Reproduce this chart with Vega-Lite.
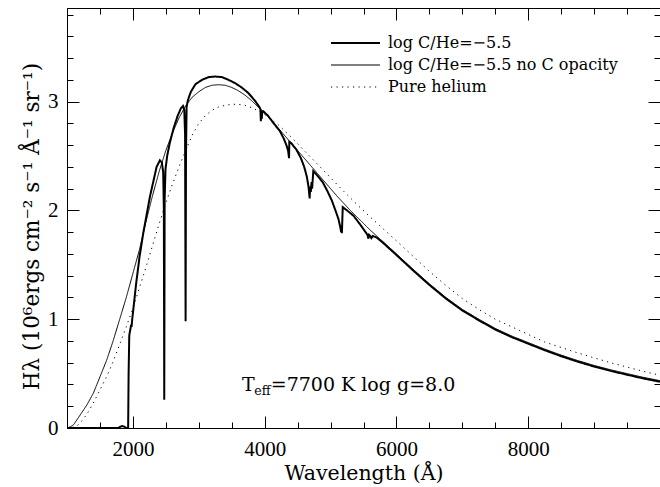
{
  "$schema": "https://vega.github.io/schema/vega-lite/v6.json",
  "width": 593,
  "height": 420,
  "autosize": {"type": "none"},
  "padding": {"left": 67, "top": 8, "right": 0, "bottom": 59},
  "background": "white",
  "config": {
    "view": {"stroke": "black", "strokeWidth": 1},
    "axis": {
      "domain": false,
      "grid": false,
      "tickColor": "black",
      "tickWidth": 1,
      "labelColor": "black",
      "labelFont": "Liberation Serif",
      "labelFontSize": 21,
      "labelFlush": false,
      "labelOverlap": false,
      "titleFont": "DejaVu Serif",
      "titleFontWeight": "normal",
      "titleColor": "black"
    }
  },
  "datasets": {
    "spec": [
      {"s":"log C/He=−5.5","w":1000,"h":0},{"s":"log C/He=−5.5","w":1780,"h":0},{"s":"log C/He=−5.5","w":1810,"h":0.012},{"s":"log C/He=−5.5","w":1840,"h":0.018},{"s":"log C/He=−5.5","w":1870,"h":0.012},{"s":"log C/He=−5.5","w":1900,"h":0},{"s":"log C/He=−5.5","w":1928,"h":0},{"s":"log C/He=−5.5","w":1935,"h":0.5},{"s":"log C/He=−5.5","w":1945,"h":0.85},{"s":"log C/He=−5.5","w":1965,"h":0.92},{"s":"log C/He=−5.5","w":1975,"h":0.95},{"s":"log C/He=−5.5","w":1980,"h":0.93},{"s":"log C/He=−5.5","w":1990,"h":1.0},{"s":"log C/He=−5.5","w":2050,"h":1.33},{"s":"log C/He=−5.5","w":2100,"h":1.57},{"s":"log C/He=−5.5","w":2160,"h":1.8},{"s":"log C/He=−5.5","w":2260,"h":2.13},{"s":"log C/He=−5.5","w":2360,"h":2.4},{"s":"log C/He=−5.5","w":2410,"h":2.46},{"s":"log C/He=−5.5","w":2440,"h":2.44},{"s":"log C/He=−5.5","w":2460,"h":2.35},{"s":"log C/He=−5.5","w":2470,"h":2.0},{"s":"log C/He=−5.5","w":2476,"h":0.26},{"s":"log C/He=−5.5","w":2482,"h":2.1},{"s":"log C/He=−5.5","w":2495,"h":2.38},{"s":"log C/He=−5.5","w":2520,"h":2.5},{"s":"log C/He=−5.5","w":2560,"h":2.62},{"s":"log C/He=−5.5","w":2620,"h":2.76},{"s":"log C/He=−5.5","w":2680,"h":2.87},{"s":"log C/He=−5.5","w":2730,"h":2.94},{"s":"log C/He=−5.5","w":2760,"h":2.96},{"s":"log C/He=−5.5","w":2780,"h":2.92},{"s":"log C/He=−5.5","w":2792,"h":2.7},{"s":"log C/He=−5.5","w":2800,"h":0.98},{"s":"log C/He=−5.5","w":2806,"h":2.5},{"s":"log C/He=−5.5","w":2815,"h":2.95},{"s":"log C/He=−5.5","w":2830,"h":3.0},{"s":"log C/He=−5.5","w":2850,"h":3.04},{"s":"log C/He=−5.5","w":2880,"h":3.09},{"s":"log C/He=−5.5","w":2950,"h":3.16},{"s":"log C/He=−5.5","w":3050,"h":3.2},{"s":"log C/He=−5.5","w":3150,"h":3.225},{"s":"log C/He=−5.5","w":3250,"h":3.23},{"s":"log C/He=−5.5","w":3350,"h":3.225},{"s":"log C/He=−5.5","w":3450,"h":3.2},{"s":"log C/He=−5.5","w":3550,"h":3.17},{"s":"log C/He=−5.5","w":3650,"h":3.13},{"s":"log C/He=−5.5","w":3750,"h":3.08},{"s":"log C/He=−5.5","w":3850,"h":3.01},{"s":"log C/He=−5.5","w":3920,"h":2.95},{"s":"log C/He=−5.5","w":3935,"h":2.93},{"s":"log C/He=−5.5","w":3942,"h":2.82},{"s":"log C/He=−5.5","w":3948,"h":2.92},{"s":"log C/He=−5.5","w":3955,"h":2.84},{"s":"log C/He=−5.5","w":3962,"h":2.9},{"s":"log C/He=−5.5","w":3980,"h":2.91},{"s":"log C/He=−5.5","w":4050,"h":2.87},{"s":"log C/He=−5.5","w":4150,"h":2.79},{"s":"log C/He=−5.5","w":4230,"h":2.73},{"s":"log C/He=−5.5","w":4290,"h":2.66},{"s":"log C/He=−5.5","w":4330,"h":2.6},{"s":"log C/He=−5.5","w":4355,"h":2.55},{"s":"log C/He=−5.5","w":4366,"h":2.5},{"s":"log C/He=−5.5","w":4370,"h":2.48},{"s":"log C/He=−5.5","w":4374,"h":2.63},{"s":"log C/He=−5.5","w":4400,"h":2.62},{"s":"log C/He=−5.5","w":4480,"h":2.56},{"s":"log C/He=−5.5","w":4550,"h":2.48},{"s":"log C/He=−5.5","w":4600,"h":2.4},{"s":"log C/He=−5.5","w":4640,"h":2.31},{"s":"log C/He=−5.5","w":4665,"h":2.22},{"s":"log C/He=−5.5","w":4678,"h":2.14},{"s":"log C/He=−5.5","w":4683,"h":2.11},{"s":"log C/He=−5.5","w":4690,"h":2.22},{"s":"log C/He=−5.5","w":4700,"h":2.17},{"s":"log C/He=−5.5","w":4712,"h":2.26},{"s":"log C/He=−5.5","w":4720,"h":2.2},{"s":"log C/He=−5.5","w":4738,"h":2.36},{"s":"log C/He=−5.5","w":4800,"h":2.32},{"s":"log C/He=−5.5","w":4880,"h":2.26},{"s":"log C/He=−5.5","w":4950,"h":2.18},{"s":"log C/He=−5.5","w":5020,"h":2.09},{"s":"log C/He=−5.5","w":5080,"h":1.99},{"s":"log C/He=−5.5","w":5120,"h":1.92},{"s":"log C/He=−5.5","w":5150,"h":1.84},{"s":"log C/He=−5.5","w":5160,"h":1.8},{"s":"log C/He=−5.5","w":5165,"h":1.86},{"s":"log C/He=−5.5","w":5172,"h":1.79},{"s":"log C/He=−5.5","w":5185,"h":2.03},{"s":"log C/He=−5.5","w":5250,"h":2.0},{"s":"log C/He=−5.5","w":5350,"h":1.95},{"s":"log C/He=−5.5","w":5450,"h":1.87},{"s":"log C/He=−5.5","w":5520,"h":1.81},{"s":"log C/He=−5.5","w":5560,"h":1.775},{"s":"log C/He=−5.5","w":5575,"h":1.74},{"s":"log C/He=−5.5","w":5585,"h":1.775},{"s":"log C/He=−5.5","w":5600,"h":1.765},{"s":"log C/He=−5.5","w":5620,"h":1.745},{"s":"log C/He=−5.5","w":5640,"h":1.765},{"s":"log C/He=−5.5","w":5700,"h":1.75},{"s":"log C/He=−5.5","w":5800,"h":1.7},{"s":"log C/He=−5.5","w":5900,"h":1.645},{"s":"log C/He=−5.5","w":6000,"h":1.59},{"s":"log C/He=−5.5","w":6250,"h":1.45},{"s":"log C/He=−5.5","w":6500,"h":1.315},{"s":"log C/He=−5.5","w":6750,"h":1.19},{"s":"log C/He=−5.5","w":7000,"h":1.08},{"s":"log C/He=−5.5","w":7250,"h":0.99},{"s":"log C/He=−5.5","w":7500,"h":0.905},{"s":"log C/He=−5.5","w":7750,"h":0.835},{"s":"log C/He=−5.5","w":8000,"h":0.775},{"s":"log C/He=−5.5","w":8250,"h":0.715},{"s":"log C/He=−5.5","w":8500,"h":0.66},{"s":"log C/He=−5.5","w":8750,"h":0.61},{"s":"log C/He=−5.5","w":9000,"h":0.565},{"s":"log C/He=−5.5","w":9250,"h":0.525},{"s":"log C/He=−5.5","w":9500,"h":0.49},{"s":"log C/He=−5.5","w":9750,"h":0.455},{"s":"log C/He=−5.5","w":10000,"h":0.425},
      {"s":"log C/He=−5.5 no C opacity","w":1000,"h":0},{"s":"log C/He=−5.5 no C opacity","w":1050,"h":0.01},{"s":"log C/He=−5.5 no C opacity","w":1100,"h":0.03},{"s":"log C/He=−5.5 no C opacity","w":1200,"h":0.12},{"s":"log C/He=−5.5 no C opacity","w":1300,"h":0.21},{"s":"log C/He=−5.5 no C opacity","w":1400,"h":0.32},{"s":"log C/He=−5.5 no C opacity","w":1500,"h":0.47},{"s":"log C/He=−5.5 no C opacity","w":1600,"h":0.62},{"s":"log C/He=−5.5 no C opacity","w":1700,"h":0.8},{"s":"log C/He=−5.5 no C opacity","w":1800,"h":1.0},{"s":"log C/He=−5.5 no C opacity","w":1900,"h":1.2},{"s":"log C/He=−5.5 no C opacity","w":2000,"h":1.42},{"s":"log C/He=−5.5 no C opacity","w":2100,"h":1.64},{"s":"log C/He=−5.5 no C opacity","w":2200,"h":1.9},{"s":"log C/He=−5.5 no C opacity","w":2300,"h":2.14},{"s":"log C/He=−5.5 no C opacity","w":2400,"h":2.36},{"s":"log C/He=−5.5 no C opacity","w":2500,"h":2.55},{"s":"log C/He=−5.5 no C opacity","w":2600,"h":2.71},{"s":"log C/He=−5.5 no C opacity","w":2700,"h":2.85},{"s":"log C/He=−5.5 no C opacity","w":2800,"h":2.96},{"s":"log C/He=−5.5 no C opacity","w":2900,"h":3.04},{"s":"log C/He=−5.5 no C opacity","w":3000,"h":3.09},{"s":"log C/He=−5.5 no C opacity","w":3100,"h":3.13},{"s":"log C/He=−5.5 no C opacity","w":3200,"h":3.15},{"s":"log C/He=−5.5 no C opacity","w":3300,"h":3.155},{"s":"log C/He=−5.5 no C opacity","w":3400,"h":3.15},{"s":"log C/He=−5.5 no C opacity","w":3500,"h":3.13},{"s":"log C/He=−5.5 no C opacity","w":3600,"h":3.1},{"s":"log C/He=−5.5 no C opacity","w":3700,"h":3.06},{"s":"log C/He=−5.5 no C opacity","w":3800,"h":3.01},{"s":"log C/He=−5.5 no C opacity","w":3900,"h":2.95},{"s":"log C/He=−5.5 no C opacity","w":4000,"h":2.9},{"s":"log C/He=−5.5 no C opacity","w":4100,"h":2.83},{"s":"log C/He=−5.5 no C opacity","w":4200,"h":2.76},{"s":"log C/He=−5.5 no C opacity","w":4300,"h":2.69},{"s":"log C/He=−5.5 no C opacity","w":4400,"h":2.62},{"s":"log C/He=−5.5 no C opacity","w":4500,"h":2.55},{"s":"log C/He=−5.5 no C opacity","w":4600,"h":2.48},{"s":"log C/He=−5.5 no C opacity","w":4700,"h":2.41},{"s":"log C/He=−5.5 no C opacity","w":4800,"h":2.34},{"s":"log C/He=−5.5 no C opacity","w":4900,"h":2.27},{"s":"log C/He=−5.5 no C opacity","w":5000,"h":2.2},{"s":"log C/He=−5.5 no C opacity","w":5100,"h":2.13},{"s":"log C/He=−5.5 no C opacity","w":5200,"h":2.065},{"s":"log C/He=−5.5 no C opacity","w":5300,"h":2.0},{"s":"log C/He=−5.5 no C opacity","w":5400,"h":1.94},{"s":"log C/He=−5.5 no C opacity","w":5500,"h":1.88},{"s":"log C/He=−5.5 no C opacity","w":5600,"h":1.82},{"s":"log C/He=−5.5 no C opacity","w":5700,"h":1.765},{"s":"log C/He=−5.5 no C opacity","w":5800,"h":1.71},{"s":"log C/He=−5.5 no C opacity","w":5900,"h":1.655},{"s":"log C/He=−5.5 no C opacity","w":6000,"h":1.6},{"s":"log C/He=−5.5 no C opacity","w":6250,"h":1.46},{"s":"log C/He=−5.5 no C opacity","w":6500,"h":1.325},{"s":"log C/He=−5.5 no C opacity","w":6750,"h":1.2},{"s":"log C/He=−5.5 no C opacity","w":7000,"h":1.09},{"s":"log C/He=−5.5 no C opacity","w":7250,"h":1.0},{"s":"log C/He=−5.5 no C opacity","w":7500,"h":0.915},{"s":"log C/He=−5.5 no C opacity","w":7750,"h":0.845},{"s":"log C/He=−5.5 no C opacity","w":8000,"h":0.785},{"s":"log C/He=−5.5 no C opacity","w":8250,"h":0.725},{"s":"log C/He=−5.5 no C opacity","w":8500,"h":0.67},{"s":"log C/He=−5.5 no C opacity","w":8750,"h":0.62},{"s":"log C/He=−5.5 no C opacity","w":9000,"h":0.575},{"s":"log C/He=−5.5 no C opacity","w":9250,"h":0.535},{"s":"log C/He=−5.5 no C opacity","w":9500,"h":0.5},{"s":"log C/He=−5.5 no C opacity","w":9750,"h":0.465},{"s":"log C/He=−5.5 no C opacity","w":10000,"h":0.435},
      {"s":"Pure helium","w":1000,"h":0},{"s":"Pure helium","w":1050,"h":0.002},{"s":"Pure helium","w":1100,"h":0.008},{"s":"Pure helium","w":1150,"h":0.02},{"s":"Pure helium","w":1200,"h":0.045},{"s":"Pure helium","w":1300,"h":0.125},{"s":"Pure helium","w":1400,"h":0.23},{"s":"Pure helium","w":1500,"h":0.35},{"s":"Pure helium","w":1600,"h":0.47},{"s":"Pure helium","w":1700,"h":0.61},{"s":"Pure helium","w":1800,"h":0.77},{"s":"Pure helium","w":1900,"h":0.93},{"s":"Pure helium","w":2000,"h":1.1},{"s":"Pure helium","w":2100,"h":1.29},{"s":"Pure helium","w":2200,"h":1.48},{"s":"Pure helium","w":2300,"h":1.68},{"s":"Pure helium","w":2400,"h":1.88},{"s":"Pure helium","w":2500,"h":2.07},{"s":"Pure helium","w":2600,"h":2.24},{"s":"Pure helium","w":2700,"h":2.4},{"s":"Pure helium","w":2800,"h":2.55},{"s":"Pure helium","w":2900,"h":2.69},{"s":"Pure helium","w":3000,"h":2.8},{"s":"Pure helium","w":3100,"h":2.87},{"s":"Pure helium","w":3200,"h":2.92},{"s":"Pure helium","w":3300,"h":2.95},{"s":"Pure helium","w":3400,"h":2.965},{"s":"Pure helium","w":3500,"h":2.975},{"s":"Pure helium","w":3600,"h":2.975},{"s":"Pure helium","w":3700,"h":2.965},{"s":"Pure helium","w":3800,"h":2.945},{"s":"Pure helium","w":3900,"h":2.915},{"s":"Pure helium","w":4000,"h":2.88},{"s":"Pure helium","w":4200,"h":2.79},{"s":"Pure helium","w":4400,"h":2.675},{"s":"Pure helium","w":4600,"h":2.55},{"s":"Pure helium","w":4800,"h":2.425},{"s":"Pure helium","w":5000,"h":2.3},{"s":"Pure helium","w":5200,"h":2.175},{"s":"Pure helium","w":5400,"h":2.055},{"s":"Pure helium","w":5600,"h":1.94},{"s":"Pure helium","w":5800,"h":1.83},{"s":"Pure helium","w":6000,"h":1.72},{"s":"Pure helium","w":6250,"h":1.58},{"s":"Pure helium","w":6500,"h":1.44},{"s":"Pure helium","w":6750,"h":1.31},{"s":"Pure helium","w":7000,"h":1.19},{"s":"Pure helium","w":7250,"h":1.09},{"s":"Pure helium","w":7500,"h":1.0},{"s":"Pure helium","w":7750,"h":0.93},{"s":"Pure helium","w":8000,"h":0.86},{"s":"Pure helium","w":8250,"h":0.79},{"s":"Pure helium","w":8500,"h":0.74},{"s":"Pure helium","w":8750,"h":0.69},{"s":"Pure helium","w":9000,"h":0.645},{"s":"Pure helium","w":9250,"h":0.6},{"s":"Pure helium","w":9500,"h":0.56},{"s":"Pure helium","w":9750,"h":0.52},{"s":"Pure helium","w":10000,"h":0.485}
    ]
  },
  "layer": [
    {
      "data": {"name": "spec"},
      "mark": {"type": "line", "color": "black"},
      "encoding": {
        "x": {
          "field": "w", "type": "quantitative",
          "scale": {"domain": [1000, 10000], "nice": false, "zero": false},
          "axis": {
            "orient": "bottom",
            "values": [1000,1500,2000,2500,3000,3500,4000,4500,5000,5500,6000,6500,7000,7500,8000,8500,9000,9500],
            "labelExpr": "datum.value % 2000 === 0 ? format(datum.value, 'd') : ''",
            "tickSize": {"condition": {"test": "datum.value % 2000 === 0", "value": -12}, "value": -6},
            "labelPadding": 22,
            "title": "Wavelength (Å)",
            "titleFontSize": 20.5,
            "titleX": 296.5,
            "titleY": 51,
            "titleBaseline": "alphabetic",
            "titleAlign": "center"
          }
        },
        "y": {
          "field": "h", "type": "quantitative",
          "scale": {"domain": [0, 3.86], "nice": false, "zero": false},
          "axis": {
            "orient": "left",
            "values": [0,0.2,0.4,0.6,0.8,1,1.2,1.4,1.6,1.8,2,2.2,2.4,2.6,2.8,3,3.2,3.4,3.6,3.8],
            "labelExpr": "datum.value % 1 === 0 ? '' + datum.value : ''",
            "tickSize": {"condition": {"test": "datum.value % 1 === 0", "value": -12}, "value": -6},
            "labelPadding": 21,
            "title": "Hλ (10⁶ergs cm⁻² s⁻¹ Å⁻¹ sr⁻¹)",
            "titleFontSize": 21.5,
            "titleAngle": -90,
            "titleX": -29,
            "titleY": 218,
            "titleBaseline": "alphabetic",
            "titleAlign": "center"
          }
        },
        "strokeDash": {
          "field": "s", "type": "nominal",
          "scale": {
            "domain": ["log C/He=−5.5", "log C/He=−5.5 no C opacity", "Pure helium"],
            "range": [[1, 0], [1, 0], [1.2, 4.3]]
          },
          "legend": {
            "orient": "none",
            "legendX": 280.5,
            "legendY": 27,
            "title": null,
            "padding": 0,
            "symbolType": "stroke",
            "symbolSize": 2401,
            "symbolStrokeColor": "black",
            "symbolStrokeWidth": {"expr": "datum.value === 'log C/He=−5.5' ? 2 : 1"},
            "labelFont": "DejaVu Serif",
            "labelFontSize": 16,
            "labelColor": "black",
            "labelOffset": 24.5,
            "labelLimit": 600,
            "rowPadding": 6
          }
        },
        "strokeWidth": {
          "condition": [
            {"test": "datum.s === 'log C/He=−5.5'", "value": 2},
            {"test": "datum.s === 'Pure helium'", "value": 1}
          ],
          "value": 1
        }
      }
    },
    {
      "data": {"name": "spec"},
      "mark": {"type": "point", "opacity": 0},
      "encoding": {
        "x": {
          "field": "w", "type": "quantitative",
          "scale": {"domain": [1000, 10000], "nice": false, "zero": false},
          "axis": {
            "orient": "top",
            "values": [1000,1500,2000,2500,3000,3500,4000,4500,5000,5500,6000,6500,7000,7500,8000,8500,9000,9500],
            "labels": false,
            "tickSize": {"condition": {"test": "datum.value % 2000 === 0", "value": -12}, "value": -6},
            "title": null
          }
        },
        "y": {
          "field": "h", "type": "quantitative",
          "scale": {"domain": [0, 3.86], "nice": false, "zero": false},
          "axis": {
            "orient": "right",
            "values": [0,0.2,0.4,0.6,0.8,1,1.2,1.4,1.6,1.8,2,2.2,2.4,2.6,2.8,3,3.2,3.4,3.6,3.8],
            "labels": false,
            "tickSize": {"condition": {"test": "datum.value % 1 === 0", "value": -12}, "value": -6},
            "title": null
          }
        }
      }
    },
    {
      "data": {"values": [{}]},
      "mark": {"type": "text", "text": "T", "font": "DejaVu Serif", "fontSize": 19, "align": "left", "baseline": "alphabetic", "color": "black"},
      "encoding": {
        "x": {"datum": 3656, "type": "quantitative", "scale": {"domain": [1000, 10000], "nice": false, "zero": false}, "axis": null},
        "y": {"datum": 0.343, "type": "quantitative", "scale": {"domain": [0, 3.86], "nice": false, "zero": false}, "axis": null}
      }
    },
    {
      "data": {"values": [{}]},
      "mark": {"type": "text", "text": "eff", "font": "DejaVu Serif", "fontSize": 12.5, "align": "left", "baseline": "alphabetic", "color": "black"},
      "encoding": {
        "x": {"datum": 3843, "type": "quantitative", "scale": {"domain": [1000, 10000], "nice": false, "zero": false}, "axis": null},
        "y": {"datum": 0.303, "type": "quantitative", "scale": {"domain": [0, 3.86], "nice": false, "zero": false}, "axis": null}
      }
    },
    {
      "data": {"values": [{}]},
      "mark": {"type": "text", "text": "=7700 K log g=8.0", "font": "DejaVu Serif", "fontSize": 19, "align": "left", "baseline": "alphabetic", "color": "black"},
      "encoding": {
        "x": {"datum": 4092, "type": "quantitative", "scale": {"domain": [1000, 10000], "nice": false, "zero": false}, "axis": null},
        "y": {"datum": 0.343, "type": "quantitative", "scale": {"domain": [0, 3.86], "nice": false, "zero": false}, "axis": null}
      }
    }
  ],
  "resolve": {"axis": {"x": "independent", "y": "independent"}}
}
